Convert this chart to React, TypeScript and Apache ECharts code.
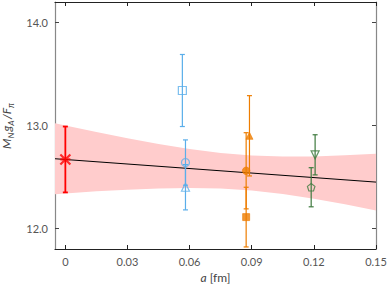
import React, { useEffect, useRef } from "react";
import * as echarts from "echarts";

// Tick values
const xTicks = [0, 0.03, 0.06, 0.09, 0.12, 0.15];
const yTicks = [12, 13, 14];

// Physical-point result
const physX = [0];
const physY = [12.67];
const physErr = [0.32];

// Blue ensemble (square, circle, triangle)
const blueX = [0.0565, 0.058, 0.058];
const blueY = [13.34, 12.64, 12.4];
const blueErr = [0.35, 0.22, 0.22];

// Orange ensemble (triangle, circle, square)
const orangeX = [0.0889, 0.0873, 0.0873];
const orangeY = [12.9, 12.56, 12.11];
const orangeErr = [0.39, 0.37, 0.29];

// Green ensemble (down triangle, pentagon)
const greenX = [0.1206, 0.1187];
const greenY = [12.715, 12.4];
const greenErr = [0.195, 0.19];

// Fit line and error band
const fitX = [-0.005, 0.15];
const fitY = [12.677, 12.45];
const bandX = [-0.005, 0, 0.015, 0.03, 0.045, 0.06, 0.075, 0.09, 0.105, 0.12, 0.135, 0.15];
const bandUpper = [13.021, 13.0, 12.936, 12.876, 12.82, 12.771, 12.733, 12.708, 12.699, 12.7, 12.71, 12.725];
const bandLower = [12.333, 12.34, 12.36, 12.376, 12.388, 12.393, 12.387, 12.368, 12.334, 12.288, 12.234, 12.175];

const RED = "#FF0000";
const BLUE = "#5AAEEA";
const ORANGE = "#EE7D00";
const GREEN = "#3E7A3E";
const FONT = "Lato";

const PENTAGON = "path://M5,0 L10,3.8 L8.1,10 L1.9,10 L0,3.8 Z";
const TRI_DOWN = "path://M0,0 L10,0 L5,9 Z";
const STAR = "path://M0,0 L10,10 M10,0 L0,10 M0,5 L10,5";

function errSeries(xs: number[], ys: number[], es: number[], color: string, width: number, cap: number) {
  return {
    type: "custom",
    z: 3,
    silent: true,
    encode: { x: 0, y: 1 },
    data: xs.map((x, i) => [x, ys[i], es[i]]),
    renderItem: (params: any, api: any) => {
      const x = api.value(0);
      const y = api.value(1);
      const e = api.value(2);
      const top = api.coord([x, y + e]);
      const bot = api.coord([x, y - e]);
      const style = { stroke: color, lineWidth: width };
      return {
        type: "group",
        children: [
          { type: "line", shape: { x1: top[0], y1: top[1], x2: bot[0], y2: bot[1] }, style },
          { type: "line", shape: { x1: top[0] - cap, y1: top[1], x2: top[0] + cap, y2: top[1] }, style },
          { type: "line", shape: { x1: bot[0] - cap, y1: bot[1], x2: bot[0] + cap, y2: bot[1] }, style },
        ],
      };
    },
  };
}

function markerSeries(x: number, y: number, symbol: string, size: number, color: string, filled: boolean) {
  return {
    type: "scatter",
    z: 5,
    silent: true,
    symbol,
    symbolSize: size,
    data: [[x, y]],
    itemStyle: filled
      ? { color, borderColor: color, borderWidth: 0.8 }
      : { color: "rgba(0,0,0,0)", borderColor: color, borderWidth: 1.2 },
  };
}

export default function App() {
  const ref = useRef<HTMLDivElement>(null);
  useEffect(() => {
    if (!ref.current) return;
    const chart = echarts.init(ref.current, null, { renderer: "svg" });
    const labelStyle = { color: "#555", fontSize: 11, fontFamily: FONT };
    const option: any = {
      animation: false,
      backgroundColor: "#fff",
      grid: { left: 55, top: 2, width: 321, height: 247, containLabel: false, outerBoundsMode: "none" },
      xAxis: [
        {
          type: "value",
          position: "bottom",
          min: -0.005,
          max: 0.15,
          axisLine: { show: true, onZero: false, lineStyle: { color: "#222", width: 1.2 } },
          axisTick: { show: true, inside: true, length: 4, customValues: xTicks, lineStyle: { color: "#222" } },
          axisLabel: {
            ...labelStyle,
            margin: 7,
            customValues: xTicks,
            formatter: (v: number) => (v === 0 ? "0" : v.toFixed(2)),
          },
          splitLine: { show: false },
          name: "{i|a} [fm]",
          nameLocation: "middle",
          nameGap: 21,
          nameTextStyle: {
            color: "#444",
            fontSize: 12,
            fontFamily: FONT,
            rich: { i: { fontStyle: "italic", fontSize: 12, color: "#444", fontFamily: FONT } },
          },
        },
        {
          type: "value",
          position: "top",
          min: -0.005,
          max: 0.15,
          axisLine: { show: true, onZero: false, lineStyle: { color: "#222", width: 1.2 } },
          axisTick: { show: true, inside: true, length: 4, customValues: xTicks, lineStyle: { color: "#222" } },
          axisLabel: { show: false },
          splitLine: { show: false },
        },
      ],
      yAxis: [
        {
          type: "value",
          position: "left",
          min: 11.8,
          max: 14.2,
          axisLine: { show: true, onZero: false, lineStyle: { color: "#888", width: 1.2 } },
          axisTick: { show: true, inside: true, length: 4, customValues: yTicks, lineStyle: { color: "#444" } },
          axisLabel: {
            ...labelStyle,
            margin: 7,
            customValues: yTicks,
            formatter: (v: number) => v.toFixed(1),
          },
          splitLine: { show: false },
          name: "{i|M}{s|N}{i|g}{s|A}{i|/F}{s|π}",
          nameLocation: "middle",
          nameGap: 32,
          nameRotate: 90,
          nameTextStyle: {
            color: "#444",
            fontSize: 12,
            fontFamily: FONT,
            rich: {
              i: { fontStyle: "italic", fontSize: 12, color: "#444", fontFamily: FONT, lineHeight: 13, verticalAlign: "top" },
              s: { fontStyle: "italic", fontSize: 8.5, color: "#444", fontFamily: FONT, lineHeight: 9, verticalAlign: "top", padding: [6, 1, 0, 0] },
            },
          },
        },
        {
          type: "value",
          position: "right",
          min: 11.8,
          max: 14.2,
          axisLine: { show: true, onZero: false, lineStyle: { color: "#888", width: 1.2 } },
          axisTick: { show: true, inside: true, length: 4, customValues: yTicks, lineStyle: { color: "#444" } },
          axisLabel: { show: false },
          splitLine: { show: false },
        },
      ],
      series: [
        {
          type: "custom",
          z: 1,
          silent: true,
          encode: { x: 0, y: 1 },
          data: [[bandX[0], bandLower[0]]],
          renderItem: (params: any, api: any) => {
            const up = bandX.map((x, i) => api.coord([x, bandUpper[i]]));
            const lo = bandX.map((x, i) => api.coord([x, bandLower[i]])).reverse();
            return { type: "polygon", shape: { points: up.concat(lo) }, style: { fill: "#FFCCCC" } };
          },
        },
        {
          type: "line",
          z: 2,
          silent: true,
          symbol: "none",
          data: fitX.map((x, i) => [x, fitY[i]]),
          lineStyle: { color: "#000", width: 1 },
        },
        errSeries(physX, physY, physErr, RED, 1.8, 2.5),
        errSeries(blueX, blueY, blueErr, BLUE, 1.2, 2.5),
        errSeries(orangeX, orangeY, orangeErr, ORANGE, 1.2, 2.5),
        errSeries(greenX, greenY, greenErr, GREEN, 1.2, 2.5),
        {
          type: "scatter",
          z: 5,
          silent: true,
          symbol: STAR,
          symbolSize: 10,
          data: physX.map((x, i) => [x, physY[i]]),
          itemStyle: { color: RED, borderColor: RED, borderWidth: 2.2 },
        },
        markerSeries(blueX[0], blueY[0], "rect", 8, BLUE, false),
        markerSeries(blueX[1], blueY[1], "circle", 8, BLUE, false),
        markerSeries(blueX[2], blueY[2], "triangle", 8, BLUE, false),
        markerSeries(orangeX[0], orangeY[0], "triangle", 7, ORANGE, true),
        markerSeries(orangeX[1], orangeY[1], "circle", 7.5, ORANGE, true),
        markerSeries(orangeX[2], orangeY[2], "rect", 7, ORANGE, true),
        markerSeries(greenX[0], greenY[0], TRI_DOWN, 8, GREEN, false),
        markerSeries(greenX[1], greenY[1], PENTAGON, 7.5, GREEN, false),
      ],
    };
    chart.setOption(option);
    return () => chart.dispose();
  }, []);
  return <div ref={ref} style={{ width: 390, height: 286, position: "absolute", left: 0, top: 0 }} />;
}
